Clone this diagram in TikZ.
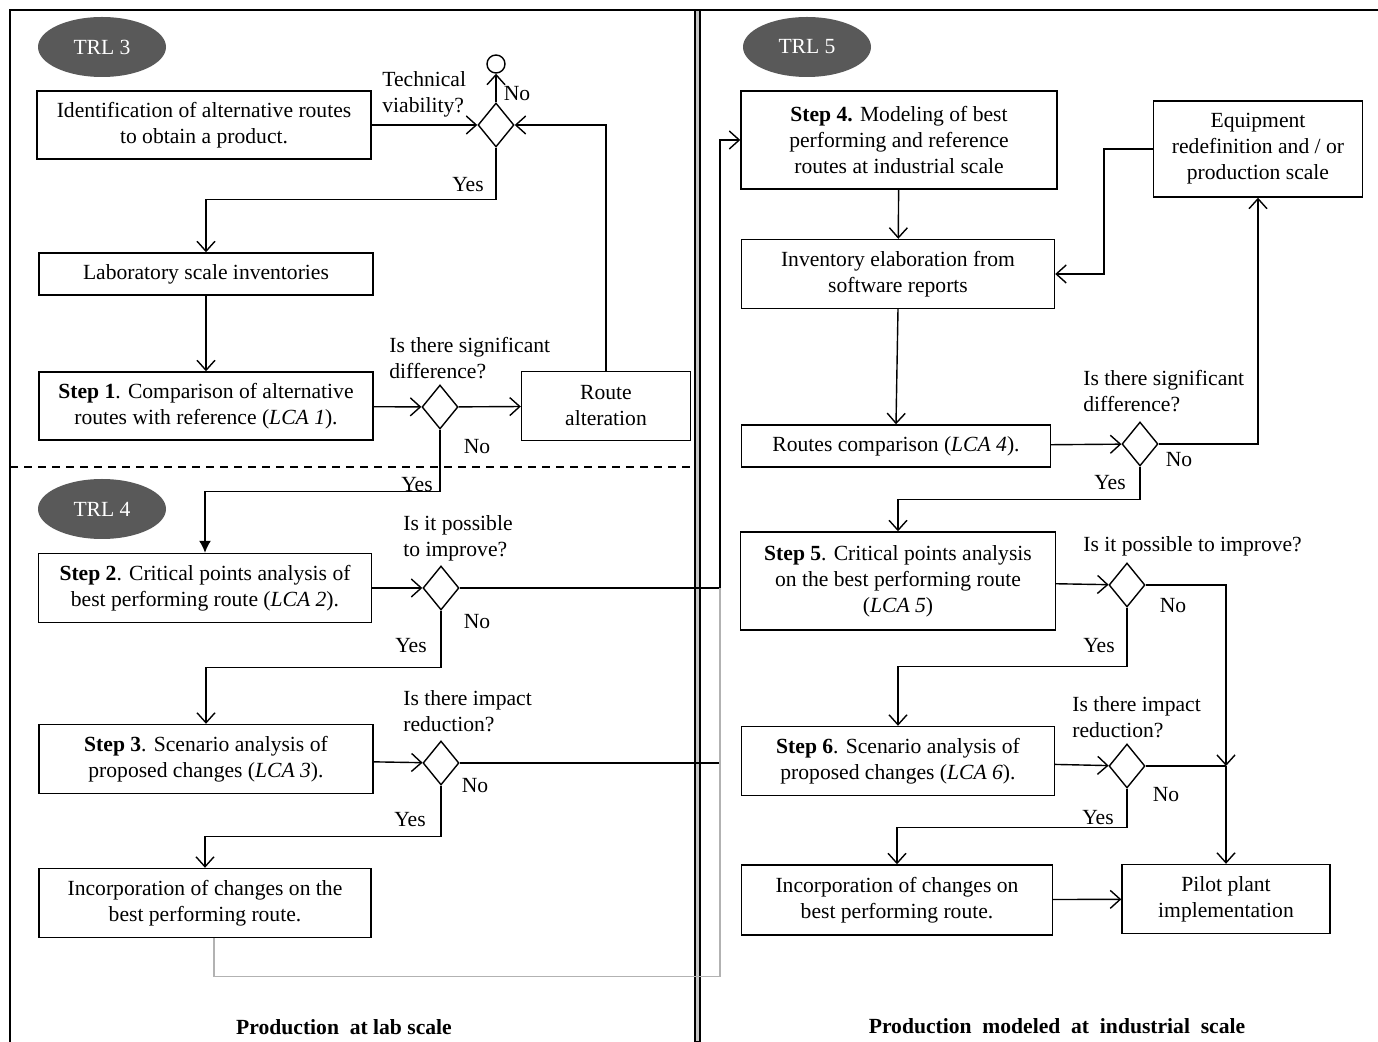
\documentclass[tikz,border=0pt]{standalone}
\usepackage{fontspec}
\setmainfont{Liberation Serif}
\usepackage{xcolor}
\definecolor{trlgray}{RGB}{89,89,89}
\usepackage{tikz}
\usetikzlibrary{arrows.meta,positioning,shapes.geometric,calc}
\tikzset{
  box/.style={draw,line width=0.7pt,inner sep=2pt,align=center,%
    font=\fontsize{10.8}{13}\selectfont},
  dec/.style={draw,diamond,line width=0.7pt,inner sep=0pt,%
    minimum width=18pt,minimum height=22pt},
  trl/.style={ellipse,fill=trlgray,text=white,minimum width=64pt,%
    minimum height=30pt,font=\fontsize{10.8}{13}\selectfont},
  lbl/.style={inner sep=0pt,align=left,font=\fontsize{10.8}{13}\selectfont},
  flow/.style={-{Straight Barb[length=5pt,width=9pt]},line width=0.7pt},
  link/.style={line width=0.7pt},
}

\begin{document}
\begin{tikzpicture}[x=0.5pt,y=-0.5pt]
\useasboundingbox (0,0) rectangle (1378,1042);
% frame and panels
\draw[line width=1pt] (10,1042) -- (10,10) -- (1378,10);
\draw[line width=0.6pt,fill=gray!45] (695,10) rectangle (700,1042);
\draw[line width=0.7pt,dash pattern=on 4pt off 3pt] (10,467) -- (695,467);

% lab scale
\node[trl] (trl3) at (102,47) {TRL 3};
\node[box,minimum width=167pt,minimum height=34pt] (idr) at (204,125)
  {Identification of alternative routes\\to obtain a product.};
\node[dec] (d1) at (496,125) {};
\node[draw,circle,line width=0.7pt,minimum size=9pt,inner sep=0pt] (stop) at (496,64) {};
\node[box,minimum width=167pt,minimum height=21pt] (lab) at (206,274)
  {Laboratory scale inventories};
\node[box,minimum width=167pt,minimum height=34pt] (s1) at (206,406)
  {\textbf{Step 1}. Comparison of alternative\\routes with reference (\textit{LCA 1}).};
\node[dec] (d2) at (440,407) {};
\node[box,minimum width=84.5pt,minimum height=34.5pt] (route) at (606,406)
  {Route\\alteration};
\node[trl] (trl4) at (102,509) {TRL 4};
\node[box,minimum width=166.5pt,minimum height=34.5pt] (s2) at (205,588)
  {\textbf{Step 2}. Critical points analysis of\\best performing route (\textit{LCA 2}).};
\node[dec] (d3) at (441,588) {};
\node[box,minimum width=167pt,minimum height=34.5pt] (s3) at (206,759)
  {\textbf{Step 3}. Scenario analysis of\\proposed changes (\textit{LCA 3}).};
\node[dec] (d4) at (441,763) {};
\node[box,minimum width=166pt,minimum height=34.5pt] (inc1) at (205,903)
  {Incorporation of changes on the\\best performing route.};
\node[font=\bfseries\fontsize{10.8}{13}\selectfont] (labt) at (344,1027)
  {Production\ \ at lab scale};

% industrial scale
\node[trl] (trl5) at (807,47) {TRL 5};
\node[box,minimum width=158pt,minimum height=49pt] (s4) at (899,140)
  {\textbf{Step 4.} Modeling of best\\performing and reference\\routes at industrial scale};
\node[box,minimum width=104.5pt,minimum height=48pt] (equip) at (1258,149)
  {Equipment\\redefinition and / or\\production scale};
\node[box,minimum width=156.5pt,minimum height=34.5pt] (inv) at (898,274)
  {Inventory elaboration from\\software reports};
\node[box,minimum width=154.5pt,minimum height=21pt] (rcmp) at (896,446)
  {Routes comparison (\textit{LCA 4}).};
\node[dec] (d5) at (1140,444) {};
\node[box,minimum width=157.5pt,minimum height=49pt] (s5) at (898,581)
  {\textbf{Step 5}. Critical points analysis\\on the best performing route\\(\textit{LCA 5})};
\node[dec] (d6) at (1127,585) {};
\node[box,minimum width=156.5pt,minimum height=34.5pt] (s6) at (898,761)
  {\textbf{Step 6}. Scenario analysis of\\proposed changes (\textit{LCA 6}).};
\node[dec] (d7) at (1127,766) {};
\node[box,minimum width=155.5pt,minimum height=35pt] (inc2) at (897,900)
  {Incorporation of changes on\\best performing route.};
\node[box,minimum width=104pt,minimum height=34.5pt] (pilot) at (1226,899)
  {Pilot plant\\implementation};
\node[font=\bfseries\fontsize{10.8}{13}\selectfont] (indt) at (1057,1026)
  {Production\ \ modeled\ \ at\ \ industrial\ \ scale};

% questions
\node[lbl,anchor=west] at (382,94) {Technical\\viability?};
\node[lbl,anchor=west] at (389,358) {Is there significant\\difference?};
\node[lbl,anchor=west] at (403,538) {Is it possible\\to improve?};
\node[lbl,anchor=west] at (403,711) {Is there impact\\reduction?};
\node[lbl,anchor=west] at (1083,391) {Is there significant\\difference?};
\node[lbl,anchor=west] at (1083,546) {Is it possible to improve?};
\node[lbl,anchor=west] at (1072,717) {Is there impact\\reduction?};

% yes / no
\node[lbl] at (517,94) {No};
\node[lbl] at (468,185) {Yes};
\node[lbl] at (477,447) {No};
\node[lbl] at (417,485) {Yes};
\node[lbl] at (477,622) {No};
\node[lbl] at (411,646) {Yes};
\node[lbl] at (475,786) {No};
\node[lbl] at (410,820) {Yes};
\node[lbl] at (1179,460) {No};
\node[lbl] at (1110,483) {Yes};
\node[lbl] at (1173,606) {No};
\node[lbl] at (1099,646) {Yes};
\node[lbl] at (1166,795) {No};
\node[lbl] at (1098,818) {Yes};

\coordinate (bus) at (720,0);
\coordinate (mrg) at (pilot.north |- d7.east);

% connectors, lab side
\draw[flow] (idr) -- (d1);
\draw[flow] (d1) -- (stop);
\draw[flow] (d1.south) -- ++(0,52) -| (lab.north);
\draw[flow] (lab) -- (s1);
\draw[flow] (s1) -- (d2);
\draw[flow] (d2) -- (route);
\draw[flow] (route.north) |- (d1.east);
\draw[link,-{Latex[length=6pt,width=6pt]}] (d2.south) -- ++(0,62) -| (s2.north);
\draw[flow] (s2) -- (d3);
\draw[flow] (d3.south) -- ++(0,57) -| (s3.north);
\draw[flow] (s3) -- (d4);
\draw[flow] (d4.south) -- ++(0,51) -| (inc1.north);
\draw[flow] (d3.east) -- (d3.east -| bus) |- (s4.west);
\draw[link] (d4.east) -- (d4.east -| bus);
\draw[gray!60,line width=0.6pt] ([xshift=4.5pt]inc1.south) -- ++(0,38) -| (d3.east -| bus);

% connectors, industrial side
\draw[flow] (s4) -- (inv);
\draw[flow] (equip.west) -- ++(-49,0) |- (inv.east);
\draw[flow] (inv.south) -- (rcmp.north);
\draw[flow] (rcmp) -- (d5);
\draw[flow] (d5.east) -| (equip.south);
\draw[flow] (d5.south) -- ++(0,33) -| (s5.north);
\draw[flow] (s5) -- (d6);
\draw[flow] (d6.east) -| (mrg);
\draw[flow] (d6.south) -- ++(0,59) -| (s6.north);
\draw[flow] (s6) -- (d7);
\draw[link] (d7.east) -- (mrg);
\draw[flow] (mrg) -- (pilot.north);
\draw[flow] (d7.south) -- ++(0,39) -| (inc2.north);
\draw[flow] (inc2) -- (pilot);
\end{tikzpicture}
\end{document}
